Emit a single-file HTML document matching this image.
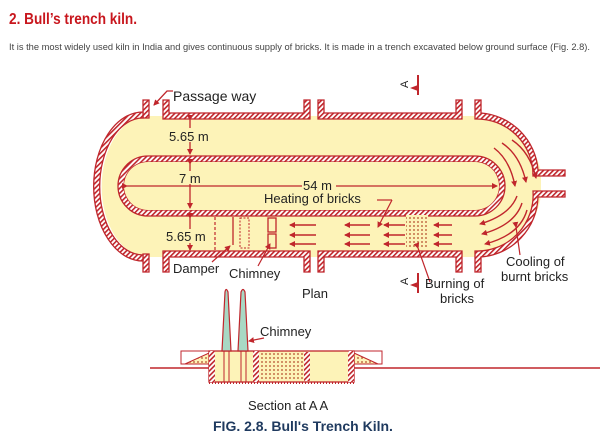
<!DOCTYPE html>
<html><head><meta charset="utf-8"><style>
html,body{margin:0;padding:0;background:#fff;width:600px;height:435px;overflow:hidden}
svg{display:block}
text{font-family:"Liberation Sans",Arial,sans-serif}
</style></head><body>
<svg width="600" height="435" viewBox="0 0 600 435" xmlns="http://www.w3.org/2000/svg">
<defs>
<pattern id="h" width="3.5" height="3.5" patternUnits="userSpaceOnUse" patternTransform="rotate(45)">
<rect width="3.5" height="3.5" fill="#fff"/><rect width="1.6" height="3.5" fill="#c0262c"/></pattern>
<pattern id="d" width="4" height="4" patternUnits="userSpaceOnUse">
<rect width="4" height="4" fill="#fdf3b8"/><circle cx="2" cy="2" r="0.9" fill="#b34a2a"/></pattern>
<marker id="a" markerWidth="6" markerHeight="6" refX="5" refY="3" orient="auto" markerUnits="userSpaceOnUse">
<path d="M0,0 L6,3 L0,6z" fill="#c0262c"/></marker>
</defs>
<text x="9" y="24" font-size="15.5" font-weight="bold" fill="#c8161d" textLength="128" lengthAdjust="spacingAndGlyphs">2. Bull’s trench kiln.</text>
<text x="9" y="50" font-size="9.5" fill="#444" textLength="581" lengthAdjust="spacingAndGlyphs">It is the most widely used kiln in India and gives continuous supply of bricks. It is made in a trench excavated below ground surface (Fig. 2.8).</text>

<!-- kiln fill -->
<path d="M148,116 L480,116 A75,70 0 0 1 541,172 L541,194 A75,70 0 0 1 480,257 L148,257 A46,70 0 0 1 148,116z" fill="#fdf3b8"/>
<g stroke="#c0262c" stroke-width="1.3" fill="url(#h)">
<path d="M143,100 h6 v18 h-6z"/>
<path d="M163,100 h6 v13 h135 v-13 h6 v19 h-147z"/>
<path d="M318,100 h6 v13 h132 v-13 h6 v19 h-144z"/>
<path d="M475,100 h6 v13 A62,62 0 0 1 538,170 h27 v6 h-32 A56,56 0 0 0 475,119z"/>
<path d="M143,272 h6 v-18 h-6z"/>
<path d="M163,272 h6 v-15 h135 v15 h6 v-21 h-147z"/>
<path d="M318,272 h6 v-15 h132 v15 h6 v-21 h-144z"/>
<path d="M475,272 h6 v-15 A62,62 0 0 0 538,197 h27 v-6 h-32 A56,56 0 0 1 475,251z"/>
<path d="M143,112 A49,74 0 0 0 143,261 v-6 A43,68 0 0 1 143,118z"/>
<path d="M148,156 H475 A30,30 0 0 1 475,216 H148 A30,30 0 0 1 148,156z M148,162 A24,24 0 0 0 148,210 H475 A24,24 0 0 0 475,162z" fill-rule="evenodd"/>
</g>
<path d="M148,162 H475 A24,24 0 0 1 475,210 H148 A24,24 0 0 1 148,162z" fill="#fdf3b8"/>

<g stroke="#c0262c" stroke-width="1.3" fill="none" marker-end="url(#a)" marker-start="url(#a)">
<line x1="190" y1="120" x2="190" y2="154"/>
<line x1="190" y1="164" x2="190" y2="208"/>
<line x1="190" y1="218" x2="190" y2="250"/>
<line x1="127" y1="186" x2="497" y2="186"/>
</g>
<rect x="168" y="128" width="50" height="14" fill="#fdf3b8"/>
<text x="169" y="141" font-size="13" fill="#222">5.65 m</text>
<rect x="177" y="171" width="28" height="13" fill="#fdf3b8"/>
<text x="179" y="183" font-size="13" fill="#222">7 m</text>
<rect x="302" y="178" width="34" height="13" fill="#fdf3b8"/>
<text x="303" y="190" font-size="13" fill="#222">54 m</text>
<text x="264" y="203" font-size="13" fill="#222">Heating of bricks</text>
<line x1="377" y1="200" x2="392" y2="200" stroke="#c0262c" stroke-width="1.2"/>
<line x1="392" y1="200" x2="378" y2="227" stroke="#c0262c" stroke-width="1.2" marker-end="url(#a)"/>
<rect x="165" y="229" width="48" height="14" fill="#fdf3b8"/>
<text x="166" y="241" font-size="13" fill="#222">5.65 m</text>
<text x="173" y="101" font-size="14" fill="#222">Passage way</text>
<path d="M173,91 h-6 L154,105" stroke="#c0262c" stroke-width="1.3" fill="none" marker-end="url(#a)"/>

<line x1="215" y1="217" x2="215" y2="250" stroke="#c0262c" stroke-width="1.2" stroke-dasharray="3,2"/>
<line x1="233" y1="217" x2="233" y2="245" stroke="#c0262c" stroke-width="1.3"/>
<rect x="240" y="218" width="9" height="30" fill="none" stroke="#c0262c" stroke-width="1" stroke-dasharray="2,1.5"/>
<rect x="268" y="218" width="8" height="14" fill="none" stroke="#c0262c" stroke-width="1.3"/>
<rect x="268" y="234" width="8" height="14" fill="none" stroke="#c0262c" stroke-width="1.3"/>
<line x1="212" y1="262" x2="230" y2="246" stroke="#c0262c" stroke-width="1.2" marker-end="url(#a)"/>
<line x1="258" y1="266" x2="270" y2="244" stroke="#c0262c" stroke-width="1.2" marker-end="url(#a)"/>
<text x="173" y="273" font-size="13" fill="#222">Damper</text>
<text x="229" y="278" font-size="13" fill="#222">Chimney</text>

<g stroke="#c0262c" stroke-width="1.4" marker-end="url(#a)">
<line x1="316" y1="225" x2="290" y2="225"/><line x1="316" y1="235" x2="290" y2="235"/><line x1="316" y1="244" x2="290" y2="244"/>
<line x1="370" y1="225" x2="345" y2="225"/><line x1="370" y1="235" x2="345" y2="235"/><line x1="370" y1="244" x2="345" y2="244"/>
<line x1="405" y1="225" x2="384" y2="225"/><line x1="405" y1="235" x2="384" y2="235"/><line x1="405" y1="244" x2="384" y2="244"/>
<line x1="452" y1="225" x2="434" y2="225"/><line x1="452" y1="235" x2="434" y2="235"/><line x1="452" y1="244" x2="434" y2="244"/>
</g>
<g fill="none" stroke="#c0262c" stroke-width="1.4" marker-end="url(#a)">
<path d="M494,148 Q510,160 515,186"/>
<path d="M502,143 Q520,155 526,182"/>
<path d="M512,140 Q530,152 536,178"/>
<path d="M517,196 Q510,215 480,224"/>
<path d="M522,203 Q515,225 482,234"/>
<path d="M527,210 Q520,235 485,244"/>
</g>
<rect x="406" y="215" width="22" height="34" fill="url(#d)"/>
<line x1="418" y1="248" x2="430" y2="282" stroke="#c0262c" stroke-width="1.2" marker-start="url(#a)"/>
<line x1="516" y1="227" x2="520" y2="255" stroke="#c0262c" stroke-width="1.2" marker-start="url(#a)"/>
<text x="425" y="288" font-size="13" fill="#222">Burning of</text>
<text x="440" y="303" font-size="13" fill="#222">bricks</text>
<text x="506" y="266" font-size="13" fill="#222">Cooling of</text>
<text x="501" y="281" font-size="13" fill="#222">burnt bricks</text>
<text x="302" y="298" font-size="13" fill="#222">Plan</text>

<g fill="#c0262c"><path d="M418,85 L410,88 L418,91z"/><rect x="417" y="75" width="2" height="20"/>
<path d="M418,282 L410,285 L418,288z"/><rect x="417" y="273" width="2" height="20"/></g>
<text x="404" y="92" font-size="11" fill="#222" transform="rotate(-90 404 88)">A</text>
<text x="404" y="289" font-size="11" fill="#222" transform="rotate(-90 404 285)">A</text>

<path d="M150,368 H600" stroke="#c0262c" stroke-width="1.5"/>
<rect x="181" y="351" width="50" height="13" fill="#fff" stroke="#c0262c"/>
<rect x="352" y="351" width="30" height="13" fill="#fff" stroke="#c0262c"/>
<path d="M185,364 L209,353 L209,364z" fill="url(#d)" stroke="#c0262c"/>
<path d="M354,353 L378,364 L354,364z" fill="url(#d)" stroke="#c0262c"/>
<rect x="209" y="351" width="145" height="31" fill="#fdf3b8" stroke="#c0262c" stroke-width="1.3"/>
<rect x="209" y="351" width="6" height="31" fill="url(#h)"/>
<rect x="253" y="351" width="6" height="31" fill="url(#h)"/>
<rect x="348" y="351" width="6" height="31" fill="url(#h)"/>
<rect x="259" y="352" width="45" height="29" fill="url(#d)"/>
<rect x="304" y="352" width="6" height="29" fill="url(#h)"/>
<g stroke="#c0262c" stroke-width="1"><line x1="224" y1="351" x2="224" y2="382"/><line x1="229" y1="351" x2="229" y2="382"/><line x1="241" y1="351" x2="241" y2="382"/><line x1="246" y1="351" x2="246" y2="382"/></g>
<path d="M209,383 H354" stroke="#c0262c" stroke-width="2" stroke-dasharray="1,2"/>
<path d="M222,351 L225,292 Q226,287 228,292 L231,351z" fill="#a8d8c4" stroke="#c0262c" stroke-width="1.2"/>
<path d="M238,351 L241,292 Q243,287 245,292 L248,351z" fill="#a8d8c4" stroke="#c0262c" stroke-width="1.2"/>
<line x1="264" y1="338" x2="249" y2="341" stroke="#c0262c" stroke-width="1.3" marker-end="url(#a)"/>
<text x="260" y="336" font-size="13" fill="#222">Chimney</text>
<text x="248" y="410" font-size="13" fill="#222">Section at A A</text>
<text x="213" y="431" font-size="14" font-weight="bold" fill="#1f3a5f">FIG. 2.8. Bull's Trench Kiln.</text>
</svg>
</body></html>
